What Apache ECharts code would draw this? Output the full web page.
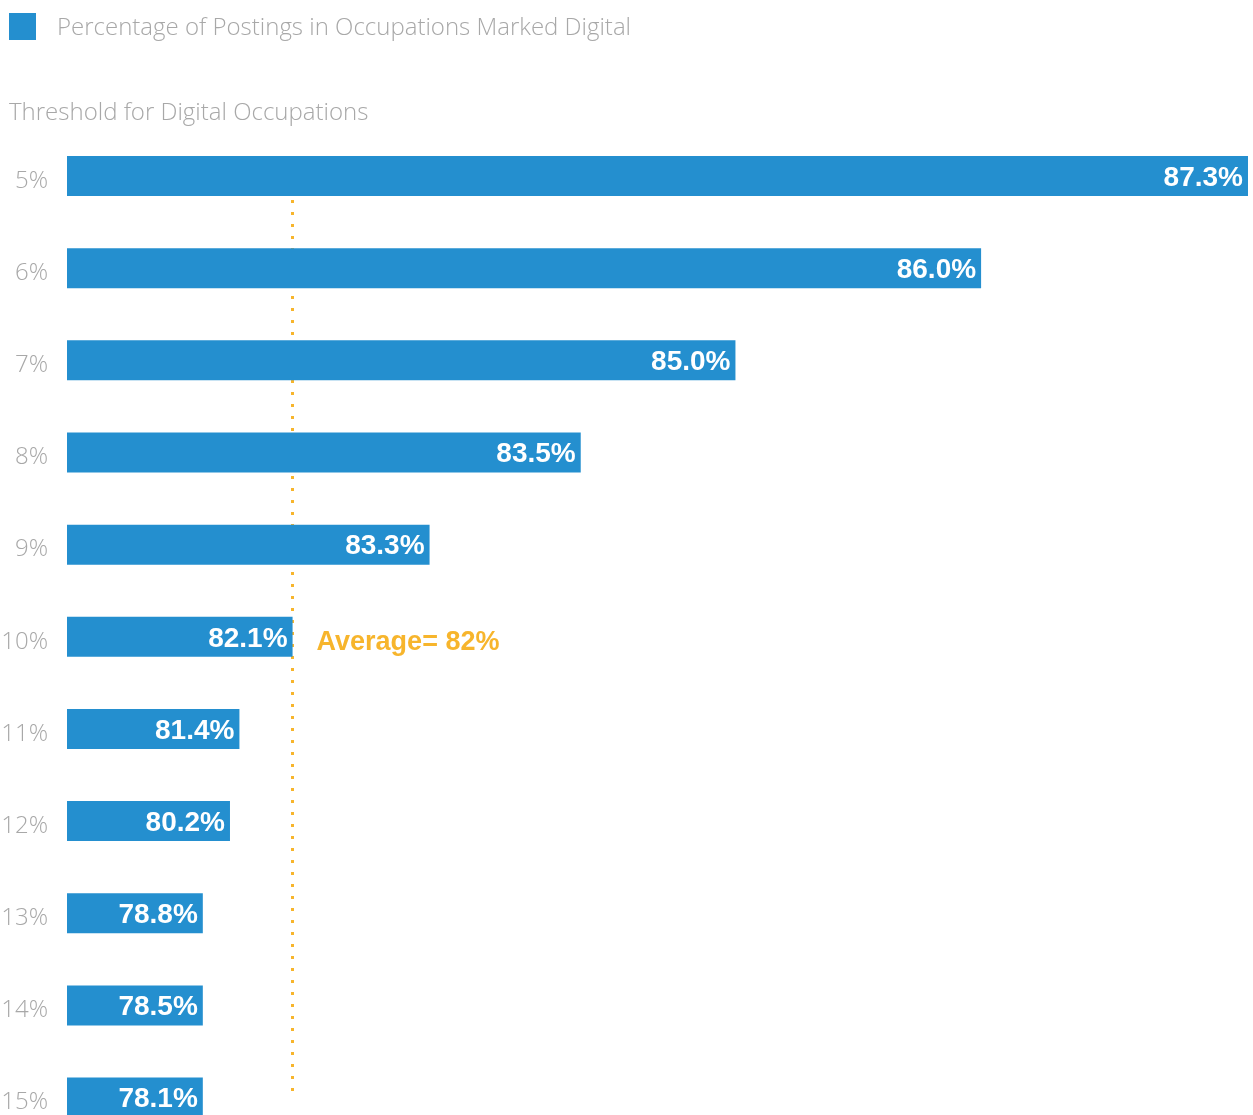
<!DOCTYPE html>
<html>
<head>
<meta charset="utf-8">
<script src="https://cdn.jsdelivr.net/npm/echarts@6/dist/echarts.min.js"></script>
<style>
  html, body { margin: 0; padding: 0; background: #fff; }
  #chart { width: 1253px; height: 1115px; }
</style>
</head>
<body>
<div id="chart"></div>
<script>
  // threshold categories (y axis)
  const thresholds = ['5%', '6%', '7%', '8%', '9%', '10%', '11%', '12%', '13%', '14%', '15%']
  // printed value on each bar
  const shareDigital = [87.3, 86.0, 85.0, 83.5, 83.3, 82.1, 81.4, 80.2, 78.8, 78.5, 78.1]
  // bar length as drawn in the source graphic (longest bar = 100)
  const barLength = [100, 77.4, 56.6, 43.5, 30.7, 19.1, 14.6, 13.8, 11.5, 11.5, 11.5]
  // average marker sits at the end of the 10% bar
  const averageText = 'Average= 82%'
  const averageAt = barLength[5]

  const blue = '#248fcf'
  const orange = '#f7b52c'
  const grey = '#a8a8a8'
  const font = 'Liberation Sans, Arial, Helvetica, sans-serif'
  const lightFont = 'Open Sans, Liberation Sans, sans-serif'

  let chart = echarts.init(document.getElementById('chart'))

  let options = {
    animation: false,
    title: {
      text: 'Threshold for Digital Occupations',
      left: 4,
      top: 96,
      textStyle: {
        color: grey,
        fontSize: 24,
        fontWeight: 300,
        fontFamily: lightFont
      }
    },
    legend: {
      left: 9,
      top: 13,
      padding: 0,
      itemWidth: 27,
      itemHeight: 27,
      icon: 'rect',
      formatter: name => '{t|' + name + '}',
      textStyle: {
        padding: [0, 0, 0, 16],
        rich: {
          t: {
            color: grey,
            fontSize: 24,
            fontWeight: 300,
            fontFamily: lightFont,
            padding: [4, 0, 0, 0]
          }
        }
      },
      data: ['Percentage of Postings in Occupations Marked Digital']
    },
    grid: {
      left: 67,
      right: 5,
      top: 130,
      height: 1013.6,
      outerBoundsMode: 'none'
    },
    xAxis: {
      type: 'value',
      min: 0,
      max: 100,
      show: false
    },
    yAxis: {
      type: 'category',
      inverse: true,
      data: thresholds,
      axisLine: { show: false },
      axisTick: { show: false },
      axisLabel: {
        margin: 19,
        formatter: v => '{v|' + v + '}',
        rich: {
          v: {
            color: grey,
            fontSize: 24,
            fontWeight: 300,
            fontFamily: lightFont,
            padding: [10, 0, 0, 0]
          }
        }
      }
    },
    series: [{
      name: 'Percentage of Postings in Occupations Marked Digital',
      type: 'bar',
      barWidth: 40,
      itemStyle: { color: blue },
      data: barLength,
      label: {
        show: true,
        position: 'insideRight',
        distance: 5,
        offset: [0, 2],
        color: '#fff',
        fontSize: 28,
        fontWeight: 'bold',
        fontFamily: font,
        formatter: p => shareDigital[p.dataIndex].toFixed(1) + '%'
      },
      markLine: {
        z: 1,
        silent: true,
        symbol: 'none',
        label: { show: false },
        lineStyle: {
          color: orange,
          width: 3,
          type: [3, 9]
        },
        data: [[
          { coord: [averageAt, thresholds[0]] },
          { coord: [averageAt, thresholds[thresholds.length - 1]] }
        ]]
      },
      markPoint: {
        silent: true,
        symbolSize: 0,
        label: {
          show: true,
          position: 'right',
          distance: 24,
          offset: [0, 6],
          color: orange,
          fontSize: 27,
          fontWeight: 'bold',
          fontFamily: font,
          formatter: averageText
        },
        data: [{ coord: [averageAt, thresholds[5]] }]
      }
    }]
  }

  chart.setOption(options, true)
</script>
</body>
</html>
